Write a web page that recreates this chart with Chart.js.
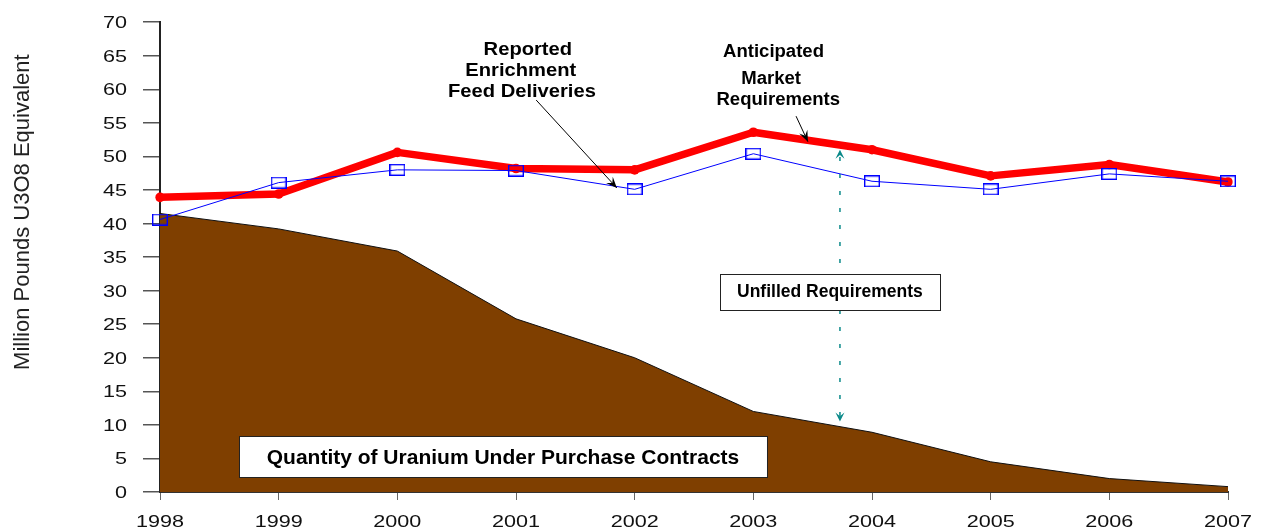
<!DOCTYPE html>
<html>
<head>
<meta charset="utf-8">
<script src="https://cdn.jsdelivr.net/npm/chart.js@4.4.1/dist/chart.umd.min.js"></script>
<style>
  body { margin: 0; background: #fff; }
  #wrap { width: 1262px; height: 529px; position: relative; }
</style>
</head>
<body>
<div id="wrap"><canvas id="mainChart"></canvas></div>
<script>
const years = ['1998', '1999', '2000', '2001', '2002', '2003', '2004', '2005', '2006', '2007'];
const marketRequirements = [43.9, 44.4, 50.6, 48.2, 48.0, 53.6, 51.0, 47.1, 48.8, 46.2];
const feedDeliveries = [40.6, 46.1, 48.0, 47.9, 45.1, 50.4, 46.3, 45.1, 47.4, 46.3];
const underContract = [41.5, 39.2, 35.9, 25.8, 20.0, 12.0, 8.9, 4.5, 2.0, 0.8];
const yTicks = [0, 5, 10, 15, 20, 25, 30, 35, 40, 45, 50, 55, 60, 65, 70];

const FONT = "'Liberation Sans', Arial, sans-serif";
const STRETCH = 1.27; // the source picture has its axis labels widened

// hollow blue box used as the marker of the deliveries line
const boxMarker = document.createElement('canvas');
boxMarker.width = 16;
boxMarker.height = 12;
(function () {
    const c = boxMarker.getContext('2d');
    c.strokeStyle = '#0000ff';
    c.lineWidth = 1.4;
    c.strokeRect(0.7, 0.7, 14.6, 10.6);
})();

function arrowHead(ctx, x1, y1, x2, y2, len, half) {
    const a = Math.atan2(y2 - y1, x2 - x1);
    ctx.beginPath();
    ctx.moveTo(x2, y2);
    ctx.lineTo(x2 - len * Math.cos(a) + half * Math.sin(a), y2 - len * Math.sin(a) - half * Math.cos(a));
    ctx.lineTo(x2 - len * Math.cos(a) * 0.6, y2 - len * Math.sin(a) * 0.6);
    ctx.lineTo(x2 - len * Math.cos(a) - half * Math.sin(a), y2 - len * Math.sin(a) + half * Math.cos(a));
    ctx.closePath();
    ctx.fill();
}

function wideText(ctx, text, x, y, align, sx) {
    ctx.save();
    ctx.translate(x, y);
    ctx.scale(sx || STRETCH, 1);
    ctx.textAlign = align;
    ctx.fillText(text, 0, 0);
    ctx.restore();
}

const annotations = {
    id: 'annotations',
    afterDatasetsDraw(chart) {
        const ctx = chart.ctx;
        const xs = chart.scales.x, ys = chart.scales.y;
        const X = v => xs.getPixelForValue(v);
        const Y = v => ys.getPixelForValue(v);
        ctx.save();

        // axis labels, taken from the scales' own ticks
        ctx.fillStyle = '#111';
        ctx.font = '17px ' + FONT;
        ctx.textBaseline = 'alphabetic';
        xs.ticks.forEach((t, i) => {
            wideText(ctx, years[i], xs.getPixelForTick(i), ys.bottom + 35, 'center');
        });
        ys.ticks.forEach((t, i) => {
            wideText(ctx, String(t.value), ys.right - 33, ys.getPixelForTick(i) + 6, 'right');
        });

        // y axis title
        ctx.save();
        ctx.translate(23, Y(41.7));
        ctx.rotate(-Math.PI / 2);
        ctx.font = '22px ' + FONT;
        ctx.fillStyle = '#222';
        ctx.textAlign = 'center';
        ctx.textBaseline = 'middle';
        ctx.fillText('Million Pounds U3O8 Equivalent', 0, 0);
        ctx.restore();

        // unfilled requirements dashed arrow
        const ux = X(5.73);
        ctx.strokeStyle = '#0b8a8a';
        ctx.fillStyle = '#0b8a8a';
        ctx.lineWidth = 1.5;
        ctx.setLineDash([4, 13]);
        ctx.beginPath();
        ctx.moveTo(ux, Y(49.9));
        ctx.lineTo(ux, Y(11.3));
        ctx.stroke();
        ctx.setLineDash([]);
        arrowHead(ctx, ux, Y(45), ux, Y(51.0), 9, 4.5);
        arrowHead(ctx, ux, Y(15), ux, Y(10.5), 9, 4.5);

        // label boxes
        function box(x1, x2, y1, y2, text, size) {
            const l = X(x1), r = X(x2), t = Y(y1), b = Y(y2);
            ctx.fillStyle = '#fff';
            ctx.fillRect(l, t, r - l, b - t);
            ctx.strokeStyle = '#222';
            ctx.lineWidth = 1;
            ctx.strokeRect(Math.round(l) + 0.5, Math.round(t) + 0.5, Math.round(r - l), Math.round(b - t));
            ctx.fillStyle = '#000';
            ctx.font = 'bold ' + size + 'px ' + FONT;
            ctx.textAlign = 'center';
            ctx.textBaseline = 'middle';
            ctx.fillText(text, (l + r) / 2, (t + b) / 2 + 1);
        }
        box(4.72, 6.57, 32.5, 27.2, 'Unfilled Requirements', 17.5);
        box(0.666, 5.115, 8.3, 2.2, 'Quantity of Uranium Under Purchase Contracts', 21);

        // series call-outs
        ctx.fillStyle = '#000';
        ctx.textBaseline = 'middle';
        ctx.font = 'bold 18px ' + FONT;
        wideText(ctx, 'Reported', X(3.1), Y(65.8), 'center', 1.12);
        wideText(ctx, 'Enrichment', X(3.04), Y(62.7), 'center', 1.12);
        wideText(ctx, 'Feed Deliveries', X(3.05), Y(59.6), 'center', 1.12);
        ctx.font = 'bold 18px ' + FONT;
        wideText(ctx, 'Anticipated', X(5.17), Y(65.5), 'center', 1.03);
        wideText(ctx, 'Market', X(5.15), Y(61.6), 'center', 1.03);
        wideText(ctx, 'Requirements', X(5.21), Y(58.4), 'center', 1.03);

        ctx.strokeStyle = '#000';
        ctx.lineWidth = 1;
        let x1 = X(3.17), y1 = Y(58.4), x2 = X(3.85), y2 = Y(45.3);
        ctx.beginPath(); ctx.moveTo(x1, y1); ctx.lineTo(x2, y2); ctx.stroke();
        arrowHead(ctx, x1, y1, x2, y2, 11, 4.5);
        x1 = X(5.36); y1 = Y(56.0); x2 = X(5.46); y2 = Y(52.2);
        ctx.beginPath(); ctx.moveTo(x1, y1); ctx.lineTo(x2, y2); ctx.stroke();
        arrowHead(ctx, x1, y1, x2, y2, 11, 4.5);

        ctx.restore();
    }
};

const ctx = document.getElementById('mainChart').getContext('2d');
const uraniumChart = new Chart(ctx, {
    type: 'line',
    data: {
        labels: years,
        datasets: [{
            label: 'Reported Enrichment Feed Deliveries',
            data: feedDeliveries,
            borderColor: '#0000ff',
            borderWidth: 1,
            pointStyle: boxMarker,
            pointRadius: 7,
            tension: 0,
            fill: false,
            order: 1
        }, {
            label: 'Anticipated Market Requirements',
            data: marketRequirements,
            borderColor: '#ff0000',
            borderWidth: 7.5,
            borderJoinStyle: 'round',
            borderCapStyle: 'round',
            pointRadius: 4.8,
            pointBorderWidth: 0,
            pointBackgroundColor: '#ff0000',
            tension: 0,
            fill: false,
            order: 2
        }, {
            label: 'Quantity of Uranium Under Purchase Contracts',
            data: underContract,
            borderColor: '#111',
            borderWidth: 1,
            backgroundColor: '#7f3f00',
            pointRadius: 0,
            tension: 0,
            fill: 'origin',
            order: 3
        }]
    },
    options: {
        responsive: true,
        maintainAspectRatio: false,
        animation: false,
        events: [],
        layout: { padding: { top: 18, right: 34, left: 0, bottom: 0 } },
        plugins: {
            legend: { display: false },
            tooltip: { enabled: false }
        },
        scales: {
            x: {
                type: 'category',
                offset: false,
                afterFit: s => { s.height = 37; },
                grid: {
                    display: true,
                    drawOnChartArea: false,
                    drawTicks: true,
                    tickLength: 8,
                    color: '#666',
                    lineWidth: 1
                },
                border: { display: true, color: '#333', width: 2 },
                ticks: {
                    color: 'rgba(0,0,0,0)',
                    font: { family: FONT, size: 17 },
                    padding: 2,
                    maxRotation: 0,
                    autoSkip: false
                }
            },
            y: {
                min: 0,
                max: 70,
                afterFit: s => { s.width = 160; },
                afterBuildTicks: s => { s.ticks = yTicks.map(v => ({ value: v })); },
                grid: {
                    display: true,
                    drawOnChartArea: false,
                    drawTicks: true,
                    tickLength: 17,
                    color: '#555',
                    lineWidth: 1.5
                },
                border: { display: true, color: '#222', width: 2 },
                ticks: {
                    color: 'rgba(0,0,0,0)',
                    font: { family: FONT, size: 17 },
                    padding: 12
                }
            }
        }
    },
    plugins: [annotations]
});
</script>
</body>
</html>
